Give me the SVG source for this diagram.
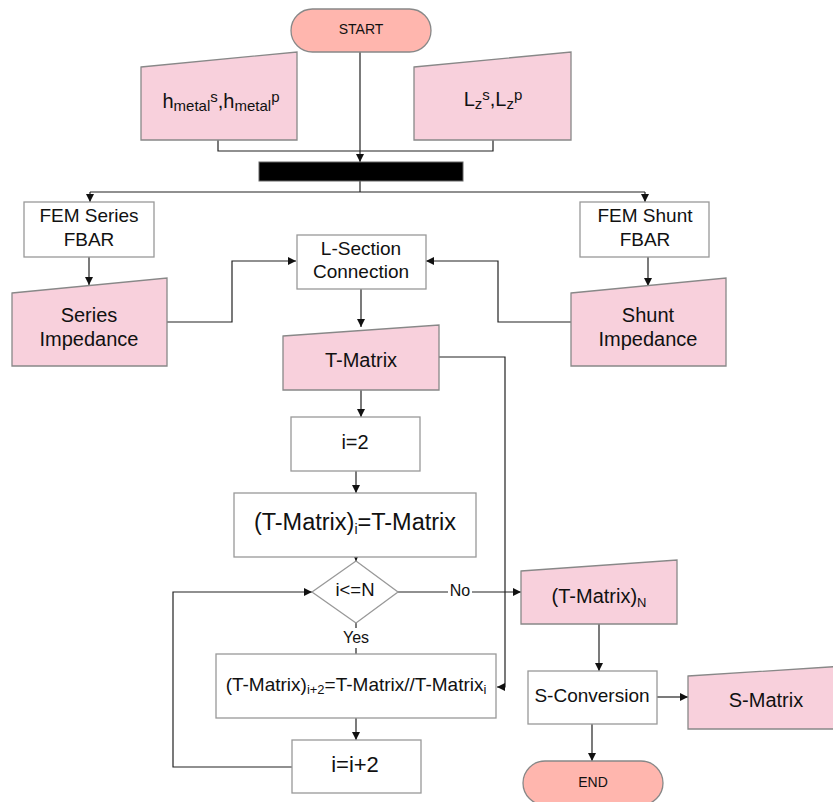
<svg xmlns="http://www.w3.org/2000/svg" width="833" height="802" viewBox="0 0 833 802">
<style>
text{font-family:"Liberation Sans",Arial,sans-serif;fill:#111;text-anchor:middle}
.term{fill:#ffb6ae;stroke:#888;stroke-width:1.3}
.inp{fill:#f8d0dc;stroke:#888;stroke-width:1.3}
.box{fill:#fff;stroke:#999;stroke-width:1.3}
.c{fill:none;stroke:#222;stroke-width:1.2}
.lbl{fill:#fff}
</style>
<defs>
<marker id="a" viewBox="0 0 10 10" refX="10" refY="5" markerWidth="8" markerHeight="8" markerUnits="userSpaceOnUse" orient="auto"><path d="M0,0 L10,5 L0,10 Z" fill="#111"/></marker>
</defs>
<rect width="833" height="802" fill="#fff"/>
<g id="connectors">
<path class="c" d="M360,52 V162" marker-end="url(#a)"/>
<path class="c" d="M218,140 V151 H493 V140"/>
<path class="c" d="M360,181 V192"/>
<path class="c" d="M90,192 H645"/>
<path class="c" d="M90,192 V202" marker-end="url(#a)"/>
<path class="c" d="M645,192 V202" marker-end="url(#a)"/>
<path class="c" d="M89,257 V285" marker-end="url(#a)"/>
<path class="c" d="M648,257 V286" marker-end="url(#a)"/>
<path class="c" d="M167,322 H232 V261 H296" marker-end="url(#a)"/>
<path class="c" d="M571,322 H498 V261 H426" marker-end="url(#a)"/>
<path class="c" d="M361,289 V327" marker-end="url(#a)"/>
<path class="c" d="M439,357 H505 V687 H497" marker-end="url(#a)"/>
<path class="c" d="M361,390 V417" marker-end="url(#a)"/>
<path class="c" d="M356,471 V493" marker-end="url(#a)"/>
<path class="c" d="M356,557 V561" marker-end="url(#a)"/>
<path class="c" d="M398,592 H521" marker-end="url(#a)"/>
<path class="c" d="M356,623 V654"/>
<path class="c" d="M356,718 V740" marker-end="url(#a)"/>
<path class="c" d="M292,767 H173 V592 H312" marker-end="url(#a)"/>
<path class="c" d="M599,624 V671" marker-end="url(#a)"/>
<path class="c" d="M657,697 H688" marker-end="url(#a)"/>
<path class="c" d="M592,724 V761" marker-end="url(#a)"/>
<rect x="448" y="584" width="24" height="16" class="lbl"/>
<text x="460" y="596" font-size="16">No</text>
<rect x="340" y="628" width="32" height="20" class="lbl"/>
<text x="356" y="643" font-size="16">Yes</text>
</g>
<g id="start"><rect class="term" x="291" y="9" width="140" height="43" rx="21.5"/><text x="361" y="34" font-size="14">START</text></g>
<g id="hmetal"><path class="inp" d="M141,67 L297,52 L297,140 L141,140 Z"/>
<text x="221" y="108" font-size="20">h<tspan font-size="15" dy="3">metal</tspan><tspan font-size="15" dy="-9">s</tspan><tspan dy="6">,h</tspan><tspan font-size="15" dy="3">metal</tspan><tspan font-size="15" dy="-9">p</tspan></text></g>
<g id="lz"><path class="inp" d="M414,67 L571,52 L571,140 L414,140 Z"/>
<text x="493" y="106" font-size="20">L<tspan font-size="15" dy="3">z</tspan><tspan font-size="15" dy="-9">s</tspan><tspan dy="6">,L</tspan><tspan font-size="15" dy="3">z</tspan><tspan font-size="15" dy="-9">p</tspan></text></g>
<g id="bar"><rect x="259" y="162" width="204" height="19" fill="#000" stroke="#666"/></g>
<g id="femseries"><rect class="box" x="24" y="202" width="130" height="55"/><text x="89" y="222" font-size="19">FEM Series</text><text x="89" y="246" font-size="19">FBAR</text></g>
<g id="femshunt"><rect class="box" x="580" y="202" width="129" height="55"/><text x="645" y="222" font-size="19">FEM Shunt</text><text x="645" y="246" font-size="19">FBAR</text></g>
<g id="lsection"><rect class="box" x="297" y="235" width="129" height="54"/><text x="361" y="255" font-size="19">L-Section</text><text x="361" y="278" font-size="19">Connection</text></g>
<g id="seriesimp"><path class="inp" d="M12,293 L167,278 L167,366 L12,366 Z"/><text x="89" y="322" font-size="20">Series</text><text x="89" y="346" font-size="20">Impedance</text></g>
<g id="shuntimp"><path class="inp" d="M571,293 L726,278 L726,366 L571,366 Z"/><text x="648" y="322" font-size="20">Shunt</text><text x="648" y="346" font-size="20">Impedance</text></g>
<g id="tmatrix"><path class="inp" d="M283,336 L439,325 L439,390 L283,390 Z"/><text x="361" y="367" font-size="20">T-Matrix</text></g>
<g id="i2"><rect class="box" x="291" y="417" width="129" height="54"/><text x="355" y="449" font-size="20">i=2</text></g>
<g id="tmi"><rect class="box" x="234" y="493" width="242" height="64"/><text x="355" y="530" font-size="23.5">(T-Matrix)<tspan font-size="14" dy="4">i</tspan><tspan dy="-4">=T-Matrix</tspan></text></g>
<g id="cond"><path class="box" d="M356,561 L398,592 L356,623 L312,592 Z"/><text x="355" y="596" font-size="18.5">i&lt;=N</text></g>
<g id="tmi2"><rect class="box" x="216" y="654" width="280" height="64"/><text x="356" y="691" font-size="19">(T-Matrix)<tspan font-size="13" dy="3">i+2</tspan><tspan dy="-3">=T-Matrix//T-Matrix</tspan><tspan font-size="13" dy="3">i</tspan></text></g>
<g id="inc"><rect class="box" x="292" y="740" width="129" height="53"/><text x="355" y="772" font-size="22">i=i+2</text></g>
<g id="tmn"><path class="inp" d="M521,571 L677,560 L677,624 L521,624 Z"/><text x="599" y="603" font-size="20">(T-Matrix)<tspan font-size="13" dy="4">N</tspan></text></g>
<g id="sconv"><rect class="box" x="528" y="671" width="129" height="53"/><text x="592" y="702" font-size="19">S-Conversion</text></g>
<g id="smatrix"><path class="inp" d="M688,676 L845,666 L845,729 L688,729 Z"/><text x="766" y="707" font-size="20">S-Matrix</text></g>
<g id="end"><rect class="term" x="523" y="761" width="140" height="44" rx="22"/><text x="593" y="787" font-size="14">END</text></g>
</svg>
